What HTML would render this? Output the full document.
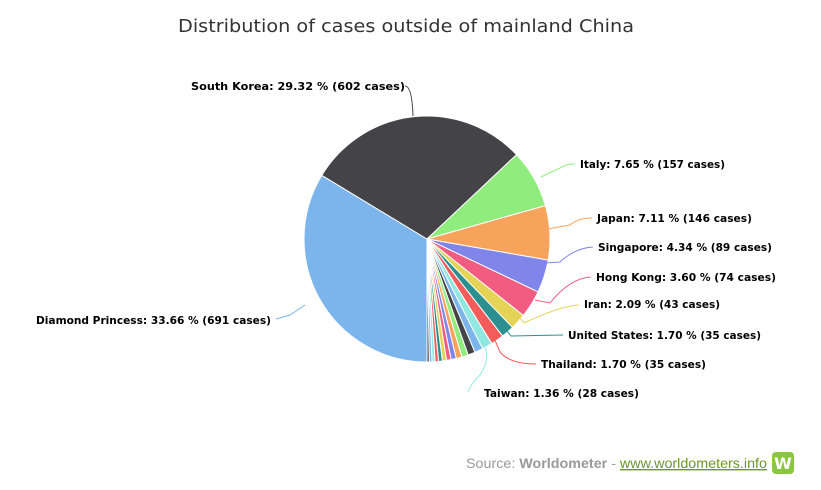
<!DOCTYPE html>
<html><head><meta charset="utf-8"><style>
body{margin:0;background:#fff;width:821px;height:485px;overflow:hidden;font-family:"Liberation Sans",Arial,sans-serif}
svg text{font-family:"DejaVu Sans","Liberation Sans",sans-serif}
.l{font-size:10.5px;font-weight:bold;fill:#000}
</style></head><body>
<svg id="s" width="821" height="485" xmlns="http://www.w3.org/2000/svg">
<text x="178" y="32" font-size="18" fill="#333" textLength="456" lengthAdjust="spacingAndGlyphs">Distribution of cases outside of mainland China</text>
<g id="pie"></g>
<g fill="none" stroke-width="1">
<path d="M405,86 Q412,86 413,116" stroke="#434348"/>
<path d="M541,177 L560,168 Q566,164 575,164" stroke="#90ed7d"/>
<path d="M548,229 L570,225 Q578,218 592,218" stroke="#f7a35c"/>
<path d="M545,263 L560,262 Q575,248 593,247" stroke="#8085e9"/>
<path d="M535,300 L550,303 Q570,278 591,277" stroke="#f15c80"/>
<path d="M520,318 L524,323 Q560,306 579,305" stroke="#e4d354"/>
<path d="M506,330 L511,336 L563,335" stroke="#2b908f"/>
<path d="M494,338 L500,352 Q510,364 536,364" stroke="#f45b5b"/>
<path d="M485,347 Q490,360 480,375 Q470,385 468,392" stroke="#91e8e1"/>
<path d="M305,305 L290,315 L276,319" stroke="#7cb5ec"/>
</g>
<text class="l" x="191" y="90" textLength="214" lengthAdjust="spacingAndGlyphs">South Korea: 29.32 % (602 cases)</text>
<text class="l" x="580" y="168" textLength="145" lengthAdjust="spacingAndGlyphs">Italy: 7.65 % (157 cases)</text>
<text class="l" x="597" y="222" textLength="155" lengthAdjust="spacingAndGlyphs">Japan: 7.11 % (146 cases)</text>
<text class="l" x="598" y="251" textLength="174" lengthAdjust="spacingAndGlyphs">Singapore: 4.34 % (89 cases)</text>
<text class="l" x="596" y="281" textLength="180" lengthAdjust="spacingAndGlyphs">Hong Kong: 3.60 % (74 cases)</text>
<text class="l" x="584" y="308" textLength="136" lengthAdjust="spacingAndGlyphs">Iran: 2.09 % (43 cases)</text>
<text class="l" x="568" y="339" textLength="193" lengthAdjust="spacingAndGlyphs">United States: 1.70 % (35 cases)</text>
<text class="l" x="541" y="368" textLength="165" lengthAdjust="spacingAndGlyphs">Thailand: 1.70 % (35 cases)</text>
<text class="l" x="484" y="397" textLength="155" lengthAdjust="spacingAndGlyphs">Taiwan: 1.36 % (28 cases)</text>
<text class="l" x="36" y="324" textLength="235" lengthAdjust="spacingAndGlyphs">Diamond Princess: 33.66 % (691 cases)</text>
<text x="466" y="468" font-size="14" fill="#999" style="font-family:'Liberation Sans',sans-serif" textLength="301" lengthAdjust="spacingAndGlyphs">Source: <tspan font-weight="bold">Worldometer</tspan> - <tspan fill="#6a9a1f" text-decoration="underline">www.worldometers.info</tspan></text>
<rect x="772" y="452" width="22" height="22" rx="4" fill="#8cc63f"/>
<text x="783" y="469" font-size="16" font-weight="bold" fill="#fff" text-anchor="middle">W</text>
</svg>
<script>
var pal=["#7cb5ec","#434348","#90ed7d","#f7a35c","#8085e9","#f15c80","#e4d354","#2b908f","#f45b5b","#91e8e1"];
var v=[33.66,29.32,7.65,7.11,4.34,3.60,2.09,1.70,1.70,1.36];
var small=[1.1,0.95,0.85,0.75,0.68,0.6,0.55,0.5,0.45,0.4,0.35,0.3];
var ss=small.reduce((a,b)=>a+b,0),rem=100-v.reduce((a,b)=>a+b,0);
small.forEach(x=>v.push(x*rem/ss));
var cx=427,cy=239,r=123,a=180,h="";
v.forEach((p,i)=>{var b=a+p*3.6;
 var x1=cx+r*Math.sin(a*Math.PI/180),y1=cy-r*Math.cos(a*Math.PI/180);
 var x2=cx+r*Math.sin(b*Math.PI/180),y2=cy-r*Math.cos(b*Math.PI/180);
 h+='<path d="M'+cx+','+cy+' L'+x1+','+y1+' A'+r+','+r+' 0 '+(p>50?1:0)+' 1 '+x2+','+y2+' Z" fill="'+pal[i%10]+'" stroke="#fff" stroke-width="1" stroke-linejoin="round"/>';
 a=b;});
document.getElementById("pie").innerHTML=h;
</script>
</body></html>
